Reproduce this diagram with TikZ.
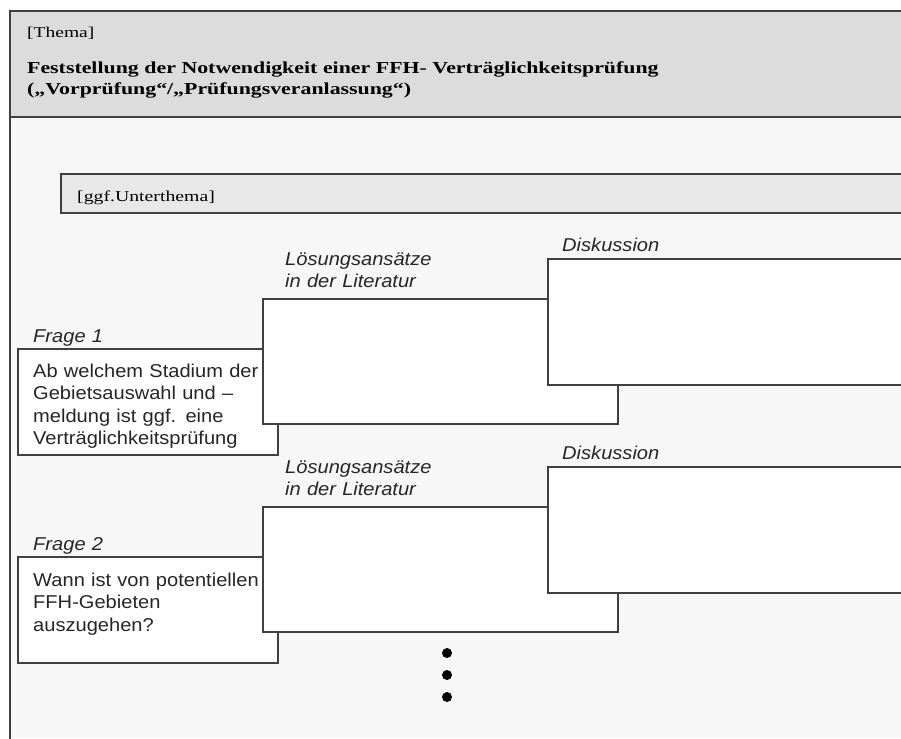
\documentclass[tikz,border=0pt]{standalone}
\usepackage{fontspec}
\setmainfont{Liberation Serif}
\setsansfont{Liberation Sans}
\newfontfamily\headfont[FakeStretch=1.3]{Liberation Serif}
\newfontfamily\formfont[FakeStretch=1.08]{Liberation Sans}
\definecolor{headgray}{HTML}{DCDCDC}
\definecolor{subgray}{HTML}{E8E8E8}
\definecolor{pagegray}{HTML}{F7F7F7}
\definecolor{linegray}{HTML}{404040}
\definecolor{inkgray}{HTML}{262626}

\begin{document}
\begin{tikzpicture}[x=1pt, y=-1pt,
  frame/.style={draw=linegray, line width=1.6pt},
  box/.style={draw=linegray, line width=1.6pt, fill=white, inner sep=0pt, anchor=north west},
  boxlabel/.style={anchor=base west, inner sep=0pt, align=left, text width=200pt, text=inkgray, font=\formfont\itshape\fontsize{18.6}{22}\selectfont},
  boxtext/.style={anchor=base west, inner sep=0pt, align=left, text width=240pt, text=inkgray, font=\formfont\fontsize{18.6}{22.5}\selectfont},
  headtext/.style={anchor=base west, inner sep=0pt, align=left, text width=700pt, text=black}]
  \useasboundingbox (0,0) rectangle (901,738);
  \clip (0,0) rectangle (901,738);
  \fill[white] (0,0) rectangle (901,738);
  \fill[pagegray] (10,117) rectangle (901,738);
  \fill[headgray] (10,11) rectangle (901,117);
  \draw[frame] (910,11) -- (10,11) -- (10,745);
  \draw[frame] (10,117) -- (910,117);

  % header
  \node[headtext, font=\headfont\fontsize{15}{18}\selectfont] (thema) at (27,38) {[Thema]};
  \node[headtext, font=\headfont\bfseries\fontsize{16.8}{21}\selectfont] (titel) at (27,74)
    {Feststellung der Notwendigkeit einer FFH- Verträglichkeitsprüfung\\(„Vorprüfung“/„Prüfungsveranlassung“)};

  \node[box, fill=subgray, minimum width=860pt, minimum height=39pt] (unterthema) at (60,173) {};
  \node[headtext, font=\headfont\fontsize{15.2}{18}\selectfont] (unterthematext) at (77,201) {[ggf.Unterthema]};

  % Frage 1
  \node[box, minimum width=260pt, minimum height=106pt] (frage1) at (17,348) {};
  \begin{scope}
    \clip (17,348) rectangle (277,448);
    \node[boxtext] (frage1text) at (33,377) {Ab welchem Stadium der\\Gebietsauswahl und –\\meldung ist ggf. eine\\Verträglichkeitsprüfung};
  \end{scope}
  \node[boxlabel] (frage1label) at (33,342) {Frage 1};
  \node[box, minimum width=355pt, minimum height=125pt] (literatur1) at (262,298) {};
  \node[boxlabel] (literatur1label) at (285,265) {Lösungsansätze\\in der Literatur};
  \node[box, minimum width=370pt, minimum height=126pt] (diskussion1) at (547,258) {};
  \node[boxlabel] (diskussion1label) at (562,251) {Diskussion};

  % Frage 2
  \node[box, minimum width=260pt, minimum height=106pt] (frage2) at (17,556) {};
  \node[boxtext] (frage2text) at (33,586) {Wann ist von potentiellen\\FFH-Gebieten\\auszugehen?};
  \node[boxlabel] (frage2label) at (33,550) {Frage 2};
  \node[box, minimum width=355pt, minimum height=125pt] (literatur2) at (262,506) {};
  \node[boxlabel] (literatur2label) at (285,473) {Lösungsansätze\\in der Literatur};
  \node[box, minimum width=370pt, minimum height=126pt] (diskussion2) at (547,466) {};
  \node[boxlabel] (diskussion2label) at (562,459) {Diskussion};

  \fill[black] (447,653) circle (5pt) (447,675) circle (5pt) (447,697) circle (5pt);
\end{tikzpicture}
\end{document}
